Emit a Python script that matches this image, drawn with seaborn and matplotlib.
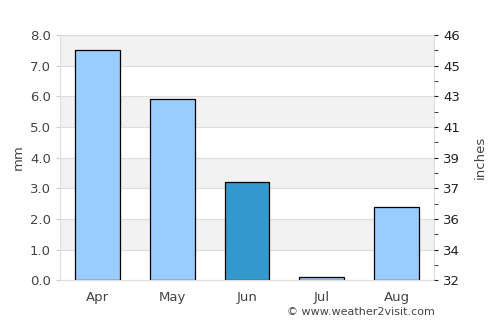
import numpy as np
import pandas as pd
import matplotlib
matplotlib.use('Agg')
import matplotlib.pyplot as plt
import seaborn as sns

# ── data ─────────────────────────────────────────────────────────────────────
months = ['Apr', 'May', 'Jun', 'Jul', 'Aug']
rain_mm = [7.5, 5.9, 3.2, 0.1, 2.4]
bar_colors = ['#99ccff', '#99ccff', '#3399cc', '#99ccff', '#99ccff']
mm_ticks = [0, 1, 2, 3, 4, 5, 6, 7, 8]
inch_labels = ['32', '34', '36', '37', '39', '41', '43', '45', '46']

df = pd.DataFrame({'month': months, 'mm': rain_mm})

sns.set_style('white')
plt.rcParams['font.family'] = ['DejaVu Sans']
txt = '#444444'

fig = plt.figure(figsize=(5, 3.25), dpi=100)
ax = fig.add_axes([0.12, 0.138, 0.748, 0.754])

# alternating bands
for lo in range(0, 8):
    if lo % 2 == 1:
        ax.axhspan(lo, lo + 1, color='#f2f2f2', zorder=0, lw=0)
for y in mm_ticks:
    ax.axhline(y, color='#dddddd', lw=0.8, zorder=0.5)

sns.barplot(data=df, x='month', y='mm', hue='month', palette=bar_colors,
            width=0.6, edgecolor='black', linewidth=0.9, saturation=1,
            legend=False, ax=ax, zorder=2)

ax.set_ylim(0, 8)
ax.set_xlim(-0.5, 4.5)
ax.set_yticks(mm_ticks)
ax.set_yticklabels([f'{v:.1f}' for v in mm_ticks])
ax.set_xlabel('')
ax.set_ylabel('mm', color=txt, fontsize=9.5)
ax.tick_params(axis='both', colors=txt, labelsize=9.5, length=3)
ax.tick_params(axis='y', color='#cccccc')
ax.tick_params(axis='x', length=0, pad=8)
for s in ax.spines.values():
    s.set_color('#dddddd')
    s.set_linewidth(0.8)

ax2 = ax.twinx()
ax2.set_ylim(0, 8)
ax2.set_yticks(mm_ticks)
ax2.set_yticklabels(inch_labels)
ax2.set_yticks(np.arange(0.5, 8, 1.0), minor=True)
ax2.tick_params(axis='y', which='both', colors='#222222', labelsize=9.5, length=3)
ax2.set_ylabel('inches', color=txt, fontsize=9.5, labelpad=10)
for s in ax2.spines.values():
    s.set_visible(False)

fig.text(0.87, 0.025, '© www.weather2visit.com', ha='right', va='bottom',
         fontsize=8, color=txt)

fig.savefig('out.png', dpi=100)
